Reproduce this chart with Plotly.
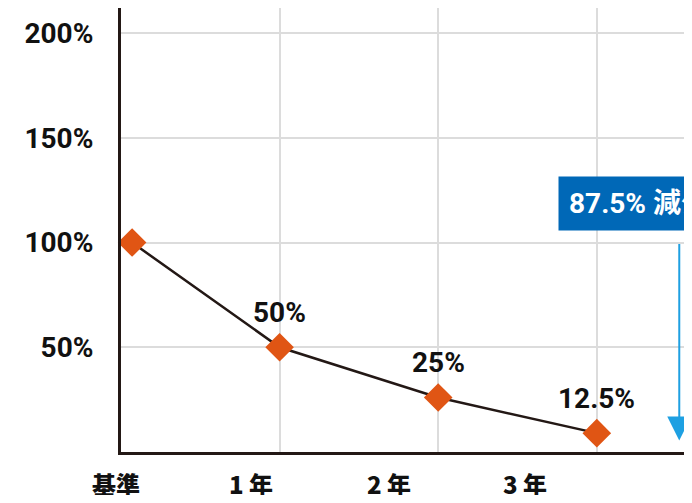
import plotly.graph_objects as go

categories = ["基準", "1 年", "2 年", "3 年"]
point_x = [0.07, 1, 2, 3]
values = [100, 50, 26, 9]
value_labels = ["", "50%", "25%", "12.5%"]
label_x = [-0.03, 0.82, 1.69, 2.55]
y_ticks = [50, 100, 150, 200]
y_tick_text = ["50%", "100%", "150%", "200%"]
grid_x = [1, 2, 3]
callout_text = "87.5% 減少"

DARK = "#231815"
ORANGE = "#E05514"
BLUE = "#0068B7"
LIGHTBLUE = "#1EA0E2"
NUM = "Roboto, Liberation Sans, Noto Sans CJK JP, sans-serif"
CJK = "Noto Sans CJK JP, sans-serif"
PX_PER_UNIT = 158.6
FIG_W, FIG_H = 676, 487
M_L, M_T, M_B = 113, 0, 43
X_MIN = 0
X_MAX = (FIG_W - M_L) / PX_PER_UNIT

fig = go.Figure()
fig.add_trace(go.Scatter(
    x=point_x, y=values, mode="lines+markers",
    line=dict(color=DARK, width=2.5),
    marker=dict(symbol="diamond", size=22, color=ORANGE),
    hoverinfo="skip", showlegend=False, cliponaxis=False,
))

for x, y, t in zip(point_x, values, value_labels):
    if t:
        fig.add_annotation(
            x=x, y=y, text=t, showarrow=False, yshift=35,
            font=dict(family=NUM, size=28, color="#111111", weight="bold"),
        )

for x, t in zip(label_x, categories):
    xa = max(x, X_MIN)
    fig.add_annotation(
        x=xa, xref="x", y=0, yref="y", text=t, showarrow=False, yshift=-31,
        xshift=(x - xa) * PX_PER_UNIT,
        font=dict(family=CJK, size=24, color="#111111", weight=900),
    )

# callout box
fig.add_annotation(
    xref="x", x=2.755, xanchor="left",
    yref="y", y=131.6, yanchor="top",
    text=callout_text, showarrow=False,
    bgcolor=BLUE, borderpad=10,
    font=dict(family=NUM, size=28, color="white", weight="bold"),
)
# arrow
fig.add_annotation(
    x=3.52, y=5.5, ax=3.52, ay=100, xref="x", yref="y", axref="x", ayref="y",
    text="", showarrow=True, arrowhead=2, arrowsize=2.4, arrowwidth=2,
    arrowcolor=LIGHTBLUE,
)

fig.update_layout(
    width=FIG_W, height=FIG_H,
    margin=dict(l=M_L, r=0, t=M_T, b=M_B),
    paper_bgcolor="white", plot_bgcolor="white",
    xaxis=dict(
        range=[X_MIN, X_MAX], tickvals=grid_x, showticklabels=False,
        showgrid=True, gridcolor="#DCDCDC", gridwidth=1.5,
        zeroline=False, showline=True, linecolor=DARK, linewidth=3,
        ticks="", fixedrange=True,
    ),
    yaxis=dict(
        range=[0, 212], tickvals=y_ticks, ticktext=y_tick_text,
        showgrid=True, gridcolor="#DCDCDC", gridwidth=1.5,
        zeroline=False, showline=True, linecolor=DARK, linewidth=3,
        ticks="", ticklabelstandoff=19,
        tickfont=dict(family=NUM, size=28, color="#111111", weight="bold"),
    ),
    showlegend=False,
)

fig.write_html("out.html")
